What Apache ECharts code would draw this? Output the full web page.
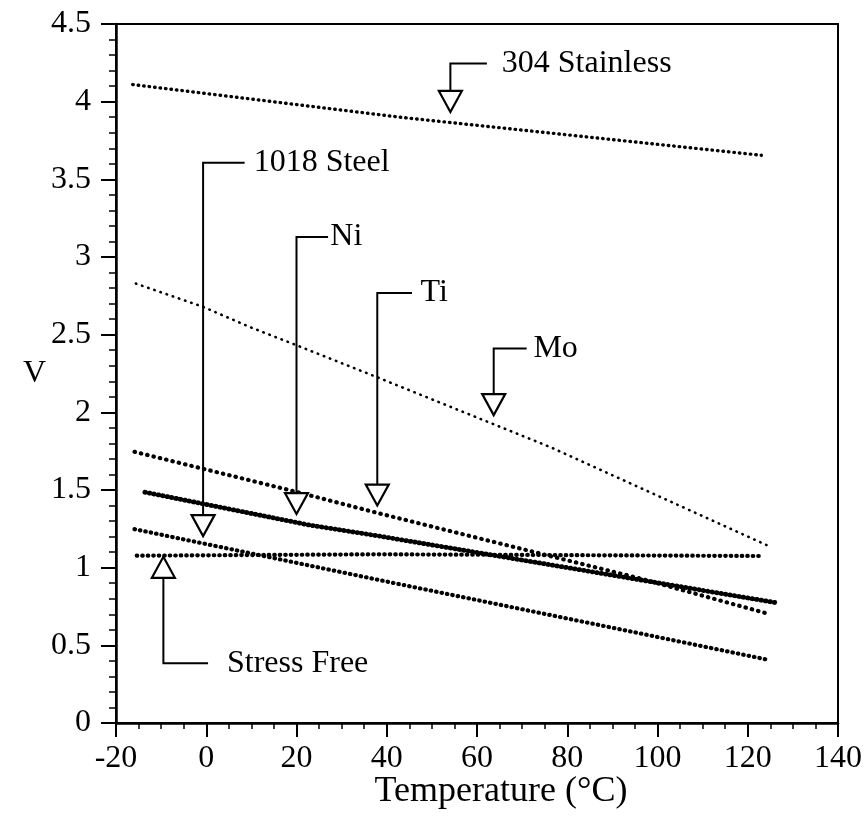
<!DOCTYPE html>
<html><head><meta charset="utf-8">
<script src="https://cdn.jsdelivr.net/npm/echarts@6/dist/echarts.min.js"></script>
<style>html,body{margin:0;padding:0;background:#fff}#c{width:866px;height:816px}</style>
</head><body><div id="c"></div>
<script>
// Data (Temperature °C, V)
const stainlessT = [-16.3, 42.9, 123.0];
const stainlessV = [4.11, 3.90, 3.655];
const moT = [-15.6, -0.7, 9.6, 20.0, 37.7, 76.1, 124.2];
const moV = [2.829, 2.679, 2.55, 2.432, 2.228, 1.778, 1.145];
const tiT = [-15.9, 18.5, 38.4, 96.1, 124.2];
const tiV = [1.746, 1.499, 1.349, 0.931, 0.706];
const niT = [-13.6, 22.9, 38.4, 126.4];
const niV = [1.486, 1.274, 1.203, 0.774];
const freeT = [-15.4, 38.4, 123.0];
const freeV = [1.077, 1.086, 1.075];
const steelT = [-15.9, 38.4, 96.1, 124.0];
const steelV = [1.248, 0.92, 0.577, 0.41];

// Callout annotations (data units)
const annLabels = ['304 Stainless', '1018 Steel', 'Ni', 'Ti', 'Mo', 'Stress Free'];
const annX      = [54.1, -0.7, 20.0, 37.9, 63.7, -9.5];
const annElbowV = [4.245, 3.606, 3.129, 2.769, 2.411, 0.384];
const annTipV   = [3.934, 1.203, 1.345, 1.40, 1.982, 1.07];
const annArmX   = [62.2, 8.5, 27.0, 45.6, 71.0, 0.4];
const annTextX  = [65.5, 10.5, 27.5, 47.5, 72.5, 4.6];
const annUp     = [0, 0, 0, 0, 0, 1];

const FONT = 'Liberation Serif';
const pairs = (t, v) => t.map((x, i) => [x, v[i]]);

function dotted(name, t, v, w, gap) {
  return {
    name, type: 'line', data: pairs(t, v), symbol: 'none', smooth: false,
    lineStyle: { color: '#000', width: w, type: [0.5, gap], cap: 'round' },
    z: 3, animation: false
  };
}

const annData = annLabels.map((l, i) => [annX[i], annElbowV[i], annTipV[i], annArmX[i], annTextX[i], annUp[i], i]);

const chart = echarts.init(document.getElementById('c'), null, { renderer: 'canvas' });
chart.setOption({
  backgroundColor: '#fff',
  animation: false,
  grid: { left: 116, right: 28, top: 24, bottom: 93, show: true, borderColor: '#000', borderWidth: 2,
          containLabel: false, outerBoundsMode: 'none' },
  xAxis: {
    type: 'value', min: -20, max: 140, interval: 20,
    name: 'Temperature (°C)', nameLocation: 'middle', nameGap: 51, nameMoveOverlap: false,
    nameTextStyle: { fontFamily: FONT, fontSize: 36, color: '#000', padding: [0, 0, 0, 48] },
    axisLine: { show: true, onZero: false, lineStyle: { color: '#000', width: 2.5 } },
    axisTick: { show: true, inside: false, length: 14, lineStyle: { color: '#000', width: 2 } },
    minorTick: { show: true, splitNumber: 4, length: 6, lineStyle: { color: '#000', width: 1.5 } },
    axisLabel: { fontFamily: FONT, fontSize: 32, color: '#000', margin: 20 },
    splitLine: { show: false }, minorSplitLine: { show: false }
  },
  yAxis: {
    type: 'value', min: 0, max: 4.5, interval: 0.5,
    name: 'V', nameLocation: 'middle', nameGap: 70, nameRotate: 0, nameMoveOverlap: false,
    nameTextStyle: { fontFamily: FONT, fontSize: 32, color: '#000', padding: [12, 0, 0, 0] },
    axisLine: { show: true, onZero: false, lineStyle: { color: '#000', width: 2.5 } },
    axisTick: { show: true, inside: false, length: 15, lineStyle: { color: '#000', width: 2 } },
    minorTick: { show: true, splitNumber: 5, length: 7, lineStyle: { color: '#000', width: 1.5 } },
    axisLabel: { fontFamily: FONT, fontSize: 32, color: '#000', margin: 25 },
    splitLine: { show: false }, minorSplitLine: { show: false }
  },
  series: [
    dotted('304 Stainless', stainlessT, stainlessV, 3.4, 5),
    dotted('Mo', moT, moV, 2.6, 6),
    dotted('Ti', tiT, tiV, 4.2, 6),
    dotted('Ni', niT, niV, 4.8, 4),
    dotted('Stress Free', freeT, freeV, 4.2, 5),
    dotted('1018 Steel', steelT, steelV, 4.2, 5),
    {
      type: 'custom', name: 'callouts', data: annData, z: 5, clip: false, animation: false,
      encode: { x: 0, y: 1 },
      renderItem: function (params, api) {
        const x = api.coord([api.value(0), 0])[0];
        const elbow = api.coord([0, api.value(1)])[1];
        const tip = api.coord([0, api.value(2)])[1];
        const arm = api.coord([api.value(3), 0])[0];
        const tx = api.coord([api.value(4), 0])[0];
        const up = api.value(5) === 1;
        const idx = api.value(6);
        const h = 21, hw = 11.5;
        const base = up ? tip + h : tip - h;
        const st = { stroke: '#000', lineWidth: 2, fill: null };
        return {
          type: 'group',
          children: [
            { type: 'polyline', shape: { points: [[arm, elbow], [x, elbow], [x, base]] }, style: st },
            { type: 'polygon', shape: { points: [[x - hw, base], [x + hw, base], [x, tip]] },
              style: { stroke: '#000', lineWidth: 2.2, fill: '#fff' } },
            { type: 'text', x: tx, y: elbow,
              style: { text: annLabels[idx], fontFamily: FONT, fontSize: 32, fill: '#000',
                       align: 'left', verticalAlign: 'middle' } }
          ]
        };
      }
    }
  ]
});
</script>
</body></html>
